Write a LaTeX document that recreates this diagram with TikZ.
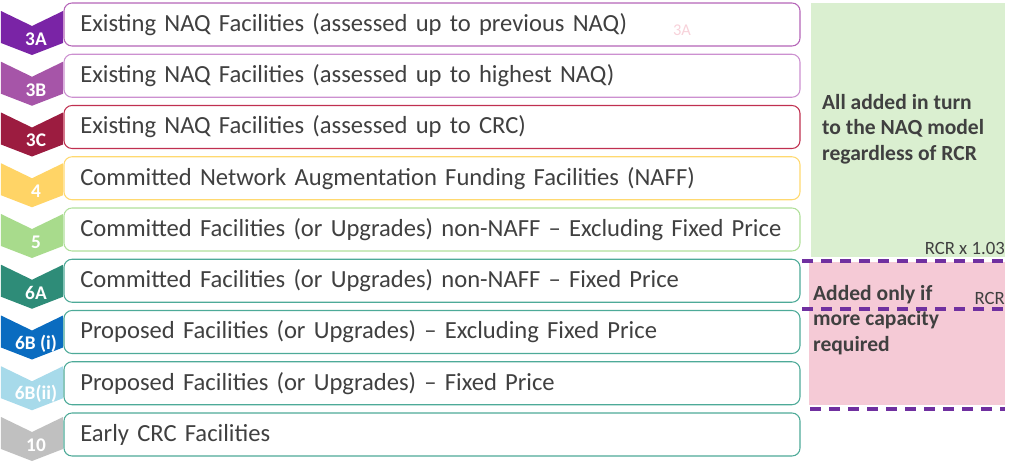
\documentclass[tikz,border=0pt]{standalone}
\usepackage{fontspec}
\setmainfont{Carlito}
\usepackage{tikz}

% chevron colours
\definecolor{cthreeA}{HTML}{7A24A6}
\definecolor{cthreeB}{HTML}{A655A8}
\definecolor{cthreeC}{HTML}{9C1C40}
\definecolor{cfour}{HTML}{FFD466}
\definecolor{cfive}{HTML}{A8DB8C}
\definecolor{csixA}{HTML}{2E8C78}
\definecolor{csixBi}{HTML}{0A6CC0}
\definecolor{csixBii}{HTML}{A7DAEA}
\definecolor{cten}{HTML}{C0C0C0}
% box edge colours
\definecolor{ethreeA}{HTML}{B565B8}
\definecolor{ethreeB}{HTML}{CC90D0}
\definecolor{ethreeC}{HTML}{C03050}
\definecolor{efour}{HTML}{FFD970}
\definecolor{efive}{HTML}{B0E09A}
\definecolor{eteal}{HTML}{4DAA98}
% panels and text
\definecolor{textgrey}{HTML}{404040}
\definecolor{panelgreen}{HTML}{DAEFD0}
\definecolor{panelpink}{HTML}{F5CAD6}
\definecolor{linepurple}{HTML}{7030A0}
\definecolor{faintpink}{HTML}{F8D2DA}

\begin{document}
\begin{tikzpicture}[x=0.03cm, y=-0.03cm,
    rowbox/.style={draw, fill=white, rounded corners=8*0.03cm, line width=0.9pt,
        minimum width=22.08cm, minimum height=1.29cm, inner xsep=0.48cm,
        text width=21.1cm, align=left, text=textgrey, font=\fontsize{21}{25}\selectfont},
    chevlabel/.style={text=white, font=\bfseries\fontsize{16.5}{18}\selectfont},
    paneltext/.style={text=textgrey, align=left, anchor=north west,
        font=\bfseries\fontsize{18.4}{21.8}\selectfont},
    limit/.style={linepurple, line width=3.3pt, dash pattern=on 11*0.03cm off 8*0.03cm},
    rcrlabel/.style={text=textgrey, anchor=east, inner xsep=0pt,
        font=\fontsize{16}{18}\selectfont}]
    \useasboundingbox (0,0) rectangle (1022,467);

    % Right-hand panels
    \fill[panelgreen] (811,3) rectangle (1005,257);
    \fill[panelpink] (809,262) rectangle (1005,405);
    \node[paneltext] (addedall) at (818,90) {All added in turn\\to the NAQ model\\regardless of RCR};
    \node[paneltext] (addedonly) at (809,281) {Added only if\\more capacity\\required};

    % Rows: chevron, label and box
    \foreach \i/\lab/\txt/\chev/\edge in {
        0/3A/{Existing NAQ Facilities (assessed up to previous NAQ)}/cthreeA/ethreeA,
        1/3B/{Existing NAQ Facilities (assessed up to highest NAQ)}/cthreeB/ethreeB,
        2/3C/{Existing NAQ Facilities (assessed up to CRC)}/cthreeC/ethreeC,
        3/4/{Committed Network Augmentation Funding Facilities (NAFF)}/cfour/efour,
        4/5/{Committed Facilities (or Upgrades) non-NAFF – Excluding Fixed Price}/cfive/efive,
        5/6A/{Committed Facilities (or Upgrades) non-NAFF – Fixed Price}/csixA/eteal,
        6/6B (i)/{Proposed Facilities (or Upgrades) – Excluding Fixed Price}/csixBi/eteal,
        7/6B(ii)/{Proposed Facilities (or Upgrades) – Fixed Price}/csixBii/eteal,
        8/10/{Early CRC Facilities}/cten/eteal}
    {
        \pgfmathsetmacro{\t}{11+50.75*\i}
        \pgfmathsetmacro{\b}{3+51.25*\i+21.5}
        \fill[\chev] (1,\t) -- (32,\t+15) -- (63,\t) -- (63,\t+32)
            -- (32,\t+44) -- (1,\t+32) -- cycle;
        \node[chevlabel] (lab\i) at (36,\t+28) {\lab};
        \node[rowbox, draw=\edge] (box\i) at (432,\b) {\txt};
    }

    % faint mark in the first box
    \node[text=faintpink, font=\fontsize{14}{16}\selectfont] (mark) at (682,30) {3A};

    % RCR limits
    \coordinate (lim1a) at (802,261);
    \coordinate (lim1b) at (1005,261);
    \coordinate (lim2a) at (802,309);
    \coordinate (lim2b) at (1005,309);
    \coordinate (lim3a) at (810,409);
    \coordinate (lim3b) at (1005,409);
    \draw[limit] (lim1a) -- (lim1b);
    \draw[limit] (lim2a) -- (lim2b);
    \draw[limit] (lim3a) -- (lim3b);
    \node[rcrlabel] (rcrhigh) at (1005,248) {RCR x 1.03};
    \node[rcrlabel] (rcr) at (1005,298) {RCR};
\end{tikzpicture}
\end{document}
